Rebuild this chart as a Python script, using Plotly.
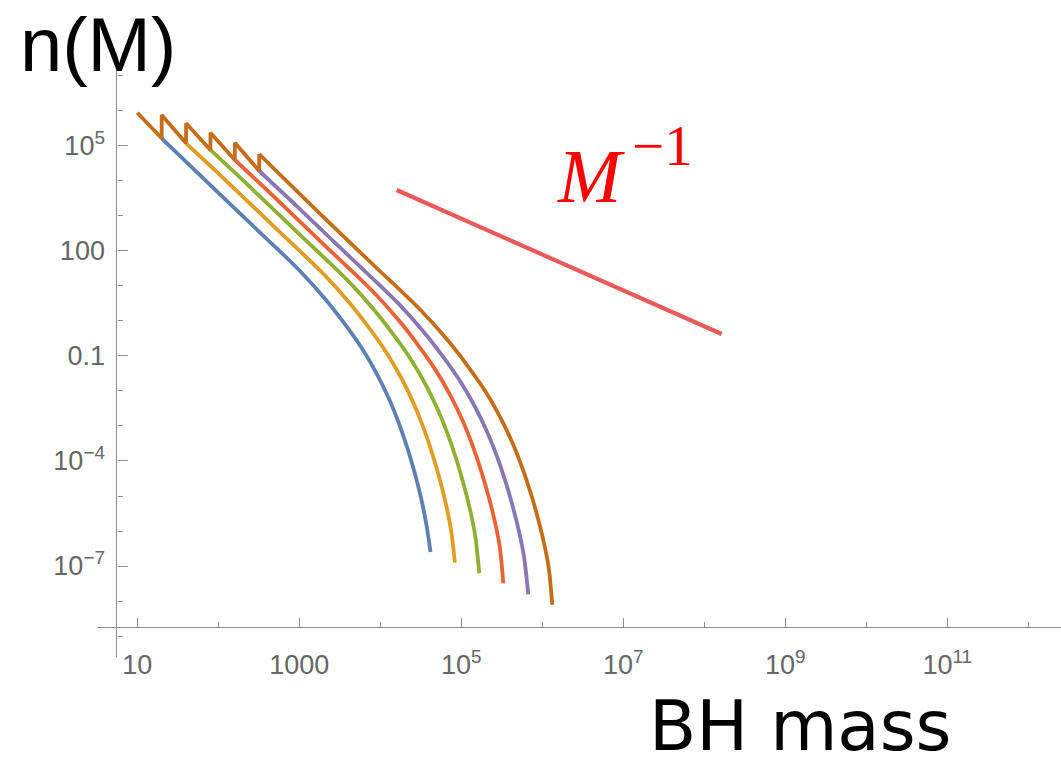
import plotly.graph_objects as go

# ---- data (BH mass M, number density n(M)) ----
blue_M = [20, 59.4, 246, 1021, 2138, 3715, 6109, 9226, 1.30e4, 1.726e4, 2.198e4, 2.704e4, 3.228e4, 3.715e4, 4.17e4]
blue_n = [1.66e5, 1.48e4, 631, 26.9, 3.98, 0.769, 0.148, 0.0286, 5.53e-3, 1.07e-3, 2.06e-4, 3.98e-5, 7.69e-6, 1.48e-6, 2.51e-7]

orange_M = [40, 118.8, 492, 2042, 4276, 7430, 1.222e4, 1.845e4, 2.60e4, 3.452e4, 4.396e4, 5.408e4, 6.456e4, 7.43e4, 8.34e4]
orange_n = [1.19e5, 1.138e4, 485, 20.7, 3.06, 0.591, 0.1138, 0.0220, 4.25e-3, 8.23e-4, 1.584e-4, 3.06e-5, 5.91e-6, 1.138e-6, 1.25e-7]

green_M = [80, 237.6, 984, 4084, 8552, 1.486e4, 2.444e4, 3.69e4, 5.2e4, 6.904e4, 8.792e4, 1.0816e5, 1.291e5, 1.486e5, 1.667e5]
green_n = [7.69e4, 7311, 311.7, 13.29, 1.966, 0.380, 0.0731, 0.01413, 2.732e-3, 5.29e-4, 1.018e-4, 1.966e-5, 3.80e-6, 7.31e-7, 6.22e-8]

red_M = [160, 475, 1968, 8168, 1.710e4, 2.972e4, 4.887e4, 7.381e4, 1.04e5, 1.381e5, 1.758e5, 2.163e5, 2.582e5, 2.972e5, 3.30e5]
red_n = [3.98e4, 3759, 160.3, 6.83, 1.011, 0.1953, 0.0376, 7.26e-3, 1.405e-3, 2.72e-4, 5.23e-5, 1.011e-5, 1.953e-6, 3.76e-7, 3.2e-8]

purple_M = [320, 950, 3936, 1.634e4, 3.421e4, 5.944e4, 9.774e4, 1.476e5, 2.08e5, 2.762e5, 3.517e5, 4.326e5, 5.165e5, 5.944e5, 6.71e5]
purple_n = [1.93e4, 1835, 78.2, 3.34, 0.494, 0.0954, 0.01835, 3.55e-3, 6.86e-4, 1.327e-4, 2.554e-5, 4.94e-6, 9.54e-7, 1.835e-7, 1.55e-8]

brown_saw_M = [10, 20, 20, 40, 40, 80, 80, 160, 160, 320, 320]
brown_saw_n = [8.93e5, 1.66e5, 7.69e5, 1.19e5, 4.46e5, 7.69e4, 2.40e5, 3.98e4, 1.24e5, 1.93e4, 5.91e4]

brown_tail_M = [320, 640, 1901, 7872, 3.267e4, 6.842e4, 1.189e5, 1.955e5, 2.952e5, 4.16e5, 5.523e5, 7.034e5, 8.653e5, 1.033e6, 1.189e6, 1.33e6]
brown_tail_n = [5.91e4, 1.2e4, 1029, 43.9, 1.870, 0.2766, 0.0534, 0.01029, 1.988e-3, 3.84e-4, 7.44e-5, 1.432e-5, 2.766e-6, 5.34e-7, 1.029e-7, 7.7e-9]

slope_M = [1.59e4, 1.64e8]
slope_n = [5.53e3, 0.425]

x_tickvals = [10, 1e3, 1e5, 1e7, 1e9, 1e11]
x_ticktext = ["10", "1000", "10<sup>5</sup>", "10<sup>7</sup>", "10<sup>9</sup>", "10<sup>11</sup>"]
x_minorvals = [1e2, 1e4, 1e6, 1e8, 1e10, 1e12]
y_tickvals = [1e5, 100, 0.1, 1e-4, 1e-7]
y_ticktext = ["10<sup>5</sup>", "100", "0.1", "10<sup>−4</sup>", "10<sup>−7</sup>"]
y_minorvals = [1e7, 1e6, 1e4, 1e3, 10, 1, 0.01, 1e-3, 1e-5, 1e-6, 1e-8, 1e-9]

# ---- figure ----
LW = 3.8
fig = go.Figure()
curves = [
    (blue_M, blue_n, "#5E81B5"),
    (orange_M, orange_n, "#E19C24"),
    (green_M, green_n, "#8FB032"),
    (red_M, red_n, "#EB6235"),
    (purple_M, purple_n, "#8778B3"),
]
for M, n, c in curves:
    fig.add_trace(go.Scatter(x=M, y=n, mode="lines",
                             line=dict(color=c, width=LW, shape="spline", smoothing=1.0),
                             hoverinfo="skip"))
fig.add_trace(go.Scatter(x=brown_saw_M, y=brown_saw_n, mode="lines",
                         line=dict(color="#C56E1A", width=LW), hoverinfo="skip"))
fig.add_trace(go.Scatter(x=brown_tail_M, y=brown_tail_n, mode="lines",
                         line=dict(color="#C56E1A", width=LW, shape="spline", smoothing=1.0),
                         hoverinfo="skip"))
fig.add_trace(go.Scatter(x=slope_M, y=slope_n, mode="lines",
                         line=dict(color="#E95B5B", width=4.2), hoverinfo="skip"))

axis_color = "#8c8c8c"
tick_font = dict(family="Liberation Sans", size=27, color="#666666")

fig.update_xaxes(type="log", range=[0.5025, 12.404], anchor="free", position=0.0506,
                 showline=True, linecolor=axis_color, linewidth=1.3,
                 showgrid=False, zeroline=False,
                 tickmode="array", tickvals=x_tickvals, ticktext=x_ticktext,
                 ticks="inside", ticklen=9, tickwidth=1.2, tickcolor=axis_color,
                 tickfont=tick_font, ticklabelstandoff=13,
                 minor=dict(tickmode="array", tickvals=x_minorvals, ticks="inside",
                            ticklen=5, tickwidth=1.1, tickcolor=axis_color, showgrid=False))
fig.update_yaxes(type="log", range=[-9.6, 7.171], anchor="free", position=0.0202,
                 showline=True, linecolor=axis_color, linewidth=1.3,
                 showgrid=False, zeroline=False,
                 tickmode="array", tickvals=y_tickvals, ticktext=y_ticktext,
                 ticks="inside", ticklen=10, tickwidth=1.2, tickcolor=axis_color,
                 tickfont=tick_font, ticklabelstandoff=6,
                 minor=dict(tickmode="array", tickvals=y_minorvals, ticks="inside",
                            ticklen=5, tickwidth=1.1, tickcolor=axis_color, showgrid=False))

fig.add_annotation(text="n(M)", xref="paper", yref="paper", x=-0.082, y=1.0426,
                   xanchor="left", yanchor="middle", showarrow=False,
                   font=dict(family="Liberation Sans", size=76, color="black"))
fig.add_annotation(text="BH mass", xref="paper", yref="paper", x=0.7293, y=-0.1175,
                   xanchor="center", yanchor="middle", showarrow=False,
                   font=dict(family="DejaVu Sans", size=69, color="black"))
fig.add_annotation(text="<i>M</i>", xref="paper", yref="paper", x=0.4748, y=0.820,
                   xanchor="left", yanchor="middle", showarrow=False,
                   font=dict(family="Liberation Serif", size=76, color="#FF0000"))
fig.add_annotation(text="−1", xref="paper", yref="paper", x=0.5527, y=0.872,
                   xanchor="left", yanchor="middle", showarrow=False,
                   font=dict(family="Liberation Serif", size=57, color="#FF0000"))

fig.update_layout(width=1061, height=767, margin=dict(l=97, r=0, t=70, b=110),
                  paper_bgcolor="white", plot_bgcolor="white", showlegend=False)

fig.write_html("out.html", config={"displayModeBar": False},
               post_script="document.body.style.margin='0';document.body.style.overflow='hidden';")
